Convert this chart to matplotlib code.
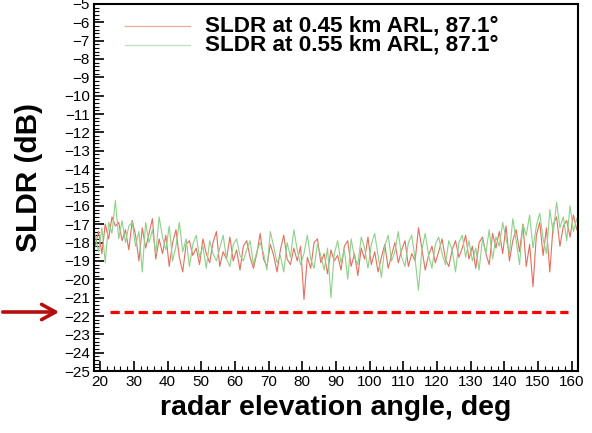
import numpy as np
import matplotlib
matplotlib.use("Agg")
import matplotlib.pyplot as plt
from matplotlib.ticker import MultipleLocator

plt.rcParams['font.family'] = ['Liberation Sans', 'DejaVu Sans']

# elevation angles (deg), one sample per degree
angles = np.arange(18.5, 162.0, 1.0)

sldr_045 = [
    -18.2, -17.4, -18.6, -17.0, -17.8, -16.6, -17.1, -16.9, -17.9, -17.3,
    -18.4, -16.8, -17.6, -19.0, -17.2, -18.3, -17.5, -16.7, -18.9, -17.8,
    -18.6, -17.6, -19.3, -18.0, -17.3, -18.8, -19.6, -18.1, -17.9, -18.7,
    -18.3, -19.2, -17.8, -18.6, -19.1, -18.0, -17.4, -19.3, -18.5, -18.9,
    -17.7, -19.0, -18.4, -19.5, -18.2, -17.9, -18.8, -19.4, -18.6, -17.5,
    -18.9, -19.3, -18.1, -18.7, -19.6, -18.4, -17.6, -18.9, -19.2, -18.3,
    -19.0, -18.2, -21.1, -18.8, -19.4, -18.0, -17.8, -19.1, -18.6, -19.7,
    -18.4, -19.0, -18.7, -19.5, -18.2, -17.9, -19.3, -18.6, -19.8, -18.3,
    -18.9, -17.7, -19.2, -18.5, -19.6, -18.8, -18.1, -19.4, -18.7, -18.0,
    -19.1, -18.4, -17.9, -19.3, -18.6, -19.0, -17.2, -18.3, -19.5, -18.7,
    -18.2, -19.1, -18.5, -17.8, -18.9, -19.3, -18.4, -17.9, -18.8, -18.3,
    -17.6, -18.9, -18.2, -19.4, -18.0, -17.7, -18.6, -19.2, -17.5, -18.3,
    -17.4, -18.6, -17.1, -19.0, -17.9, -17.3, -18.5, -17.0, -19.3, -18.1,
    -20.4, -17.6, -16.9, -18.7, -17.2, -19.6, -17.0, -16.6, -18.2, -17.1,
    -16.8, -17.7, -16.5, -17.3,
]

sldr_055 = [
    -17.6, -18.5, -17.2, -19.1, -16.9, -17.5, -15.7, -17.8, -16.8, -18.0,
    -17.1, -16.9, -18.2, -17.4, -19.6, -16.9, -18.0, -17.3, -18.6, -16.6,
    -17.7, -18.4, -17.1, -19.0, -18.2, -16.9, -18.5, -17.8, -19.3, -18.1,
    -17.6, -18.8, -18.2, -19.4, -17.9, -18.6, -19.0, -18.3, -17.6, -18.9,
    -19.3, -18.1, -17.8, -18.7, -19.0, -18.4, -17.9, -19.2, -18.5, -18.0,
    -18.6, -19.5, -17.4, -18.2, -19.1, -18.7, -19.6, -18.0, -18.8, -17.3,
    -18.4, -19.2, -18.6, -17.6, -18.9, -19.4, -18.1, -18.7, -19.5, -18.3,
    -21.0, -18.6, -17.9, -19.1, -18.4, -20.0, -17.8, -18.8, -19.2, -17.7,
    -18.3, -19.4, -18.1, -17.5, -18.7, -19.9, -18.2, -17.6, -19.0, -18.5,
    -17.4, -18.8, -19.3, -18.0, -17.6, -18.9, -20.6, -18.4, -17.5, -18.7,
    -19.4, -18.1, -17.7, -18.6, -19.2, -17.9, -18.4, -19.6, -18.0, -17.6,
    -18.8, -17.9, -19.0, -18.3, -19.5, -17.8, -18.6, -17.3, -18.9, -17.7,
    -18.2, -16.9, -17.8, -18.6, -16.7, -17.9, -19.2, -17.0, -17.6, -16.5,
    -18.3, -17.1, -16.4, -17.8, -18.6, -16.2, -17.5, -15.8, -17.2, -16.6,
    -17.9, -16.0, -17.4, -16.7,
]

labels = ['SLDR at 0.45 km ARL, 87.1\u00b0', 'SLDR at 0.55 km ARL, 87.1\u00b0']
colors = ['#e0705e', '#8fd08a']

threshold = -21.8
threshold_span = (23, 159)

fig = plt.figure(figsize=(5.92, 4.33), dpi=100)
ax = fig.add_axes([0.159, 0.143, 0.817, 0.848])

for vals, c in zip([sldr_045, sldr_055], colors):
    ax.plot(angles, vals, color=c, lw=0.8)
ax.hlines(threshold, *threshold_span, colors='#ff0000', lw=2.3, linestyles=(0, (2.9, 1.5)))

# hand-placed legend: short sample line plus bold label per row
for row_y, lab, c in zip([0.940, 0.888], labels, colors):
    ax.plot([0.064, 0.198], [row_y, row_y], color=c, lw=0.9, alpha=0.6,
            transform=ax.transAxes)
    ax.text(0.229, row_y, lab, transform=ax.transAxes, fontsize=16.2,
            fontweight='bold', va='center', ha='left')

ax.set_xlim(18.2, 161.8)
ax.set_ylim(-25, -5)
ax.xaxis.set_major_locator(MultipleLocator(10))
ax.xaxis.set_minor_locator(MultipleLocator(2))
ax.yaxis.set_major_locator(MultipleLocator(1))
ax.yaxis.set_minor_locator(MultipleLocator(0.2))
ax.tick_params(which='both', direction='in', top=False, right=False, labelsize=11, width=1.2, pad=3)
ax.tick_params(which='major', length=7)
ax.tick_params(which='minor', length=3.5, width=0.8)
for sp in ax.spines.values():
    sp.set_linewidth(1.5)

ax.set_xlabel('radar elevation angle, deg', fontsize=20.5, fontweight='bold', labelpad=4)
ax.set_ylabel('SLDR (dB)', fontsize=21.5, fontweight='bold')
ax.yaxis.set_label_coords(-0.105, 0.526)

# arrow pointing at the threshold line
ax.annotate('', xy=(62 / 592, 1 - 312 / 433), xytext=(0, 1 - 312 / 433),
            xycoords='figure fraction', textcoords='figure fraction',
            arrowprops=dict(arrowstyle='->,head_length=1.0,head_width=0.55',
                            color='#b40f0f', lw=2.6))

fig.savefig('out.png', dpi=100)
